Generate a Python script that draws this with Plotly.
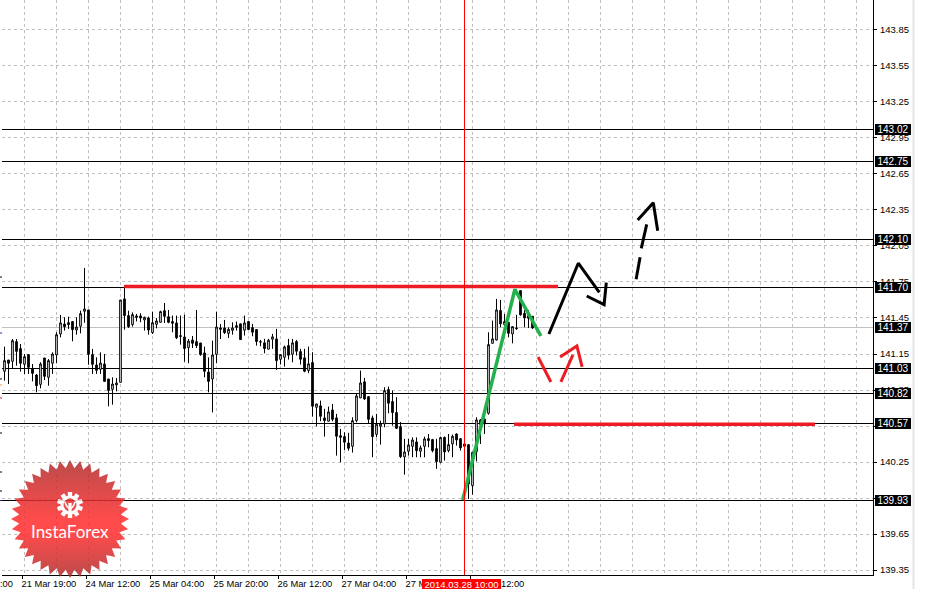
import base64, math
import plotly.graph_objects as go

opens = [141.006,141.100,141.089,141.253,141.195,141.064,141.145,141.025,140.975,140.897,141.117,140.956,141.073,141.142,141.317,141.400,141.411,141.420,141.350,141.381,
         141.506,141.517,141.145,141.059,141.022,141.067,140.942,140.856,140.892,140.914,141.609,141.470,141.395,141.467,141.467,141.434,141.450,141.328,141.397,141.414,
         141.511,141.461,141.420,141.409,141.303,141.292,141.203,141.267,141.253,141.242,141.159,141.000,140.942,141.147,141.367,141.367,141.322,141.347,141.386,141.401,
         141.348,141.420,141.370,141.354,141.252,141.243,141.190,141.273,141.276,141.106,141.123,141.220,141.148,141.254,141.170,141.118,141.012,141.079,140.706,140.718,
         140.618,140.590,140.684,140.618,140.470,140.462,140.409,140.381,140.595,140.784,140.918,140.795,140.618,140.481,140.548,140.568,140.854,140.754,140.662,140.545,
         140.293,140.340,140.381,140.418,140.340,140.381,140.445,140.437,140.362,140.248,140.456,140.345,140.401,140.484,140.445,140.401,140.395,140.053,140.337,140.601,
         140.609,140.656,141.239,141.267,141.512,141.395,141.414,141.317,141.367,141.678,141.489,141.470,141.464]
highs = [141.211,141.100,141.275,141.275,141.233,141.150,141.150,141.067,140.984,141.081,141.117,141.108,141.164,141.331,141.475,141.456,141.461,141.420,141.456,141.511,
         141.867,141.517,141.192,141.122,141.164,141.150,140.942,140.956,140.950,141.600,141.720,141.511,141.497,141.484,141.489,141.461,141.461,141.503,141.450,141.511,
         141.575,141.517,141.470,141.470,141.470,141.478,141.275,141.300,141.517,141.242,141.211,141.122,141.261,141.503,141.400,141.434,141.372,141.414,141.420,141.401,
         141.470,141.420,141.401,141.354,141.267,141.276,141.276,141.318,141.359,141.145,141.220,141.276,141.276,141.267,141.193,141.193,141.212,141.165,140.734,140.762,
         140.693,140.712,140.734,140.651,140.526,140.498,140.493,140.623,140.818,141.012,140.951,140.795,140.637,140.651,140.595,140.873,140.879,140.845,140.790,140.584,
         140.443,140.443,140.456,140.456,140.387,140.462,140.484,140.443,140.443,140.462,140.462,140.484,140.479,140.490,140.445,140.415,140.395,140.331,140.623,140.609,
         140.609,141.331,141.428,141.609,141.601,141.484,141.414,141.378,141.476,141.678,141.517,141.517,141.464]
lows = [140.928,140.900,141.025,141.053,141.003,140.984,140.984,140.922,140.831,140.864,140.933,140.886,140.984,141.073,141.289,141.345,141.359,141.256,141.311,141.322,
        141.411,141.061,140.984,140.984,140.984,140.922,140.714,140.728,140.839,140.914,141.353,141.367,141.378,141.422,141.414,141.345,141.311,141.317,141.364,141.414,
        141.409,141.406,141.331,141.275,141.228,141.086,141.073,141.200,141.200,141.136,140.956,140.831,140.664,141.073,141.275,141.317,141.283,141.311,141.345,141.270,
        141.304,141.354,141.298,141.220,141.215,141.156,141.190,141.193,141.018,141.062,141.045,141.104,141.081,141.137,141.062,140.998,140.990,140.629,140.548,140.590,
        140.462,140.590,140.590,140.304,140.248,140.351,140.345,140.329,140.581,140.784,140.768,140.573,140.290,140.456,140.395,140.540,140.656,140.554,140.526,140.284,
        140.145,140.304,140.290,140.290,140.290,140.290,140.373,140.331,140.193,140.240,140.262,140.331,140.290,140.387,140.345,140.367,139.942,139.978,140.256,140.401,
        140.484,140.645,141.239,141.262,141.373,141.367,141.289,141.239,141.351,141.470,141.373,141.367,141.359]
closes = [141.095,141.073,141.261,141.172,141.073,141.128,141.039,140.989,140.886,141.067,140.964,141.095,141.150,141.311,141.409,141.378,141.395,141.353,141.375,141.486,
          141.525,141.147,141.064,141.014,141.075,140.922,140.847,140.900,140.909,141.600,141.470,141.378,141.478,141.456,141.450,141.456,141.350,141.411,141.425,141.503,
          141.464,141.414,141.406,141.286,141.297,141.195,141.258,141.239,141.220,141.145,141.006,140.922,141.142,141.375,141.356,141.328,141.356,141.367,141.372,141.270,
          141.409,141.354,141.331,141.254,141.250,141.195,141.265,141.293,141.095,141.145,141.209,141.140,141.243,141.173,141.106,141.006,141.068,140.715,140.734,140.631,
          140.595,140.668,140.606,140.465,140.456,140.415,140.365,140.595,140.801,140.909,140.776,140.606,140.462,140.565,140.568,140.845,140.740,140.662,140.531,140.295,
          140.334,140.393,140.434,140.345,140.368,140.443,140.429,140.345,140.254,140.454,140.334,140.395,140.465,140.434,140.368,140.381,140.067,140.331,140.601,140.562,
          140.567,141.228,141.276,141.517,141.401,141.420,141.323,141.378,141.362,141.476,141.451,141.448,141.367]
bar_index = list(range(len(opens)))

price_ticks = [143.85,143.55,143.25,142.95,142.65,142.35,142.05,141.75,141.45,141.15,140.85,140.55,140.25,139.95,139.65,139.35]
black_levels = [143.02,142.75,142.10,141.70,141.03,140.82,140.57,139.93]
gray_level = 141.37
tag_levels = [143.02,142.75,142.10,141.70,141.37,141.03,140.82,140.57,139.93]

time_ticks = [4.5,20.5,36.5,52.5,68.5,84.5,100.5,116.5]
time_labels = ["21 Mar 19:00","24 Mar 12:00","25 Mar 04:00","25 Mar 20:00","26 Mar 12:00","27 Mar 04:00","27 Mar 20:00","28 Mar 12:00"]
grid_x = list(range(5, 218, 8))
cursor_bar = 115

# hand drawn marks on the chart, bar index / price
green_x = [114.55,127.6,134.1]
green_y = [139.934,141.689,141.300]
black_paths = [
    ([136.1,143.45,148.7],[141.317,141.906,141.664]),
    ([145.55,149.9,150.45],[141.633,141.561,141.744]),
    ([157.9,158.9],[141.772,141.956]),
    ([159.2,160.55],[142.030,142.230]),
    ([158.3,162.2,163.3],[142.266,142.410,142.177]),
]
red_arrow_paths = [
    ([133.4,136.6],[141.125,140.917]),
    ([139.1,142.1],[140.917,141.142]),
    ([138.9,143.1,144.4],[141.125,141.217,141.042]),
]
red_bars = [
    ([29.9,138.4],[141.712,141.712]),
    ([127.4,202.6],[140.565,140.565]),
]
left_marks = [(141.791,"#000000"),(141.325,"#2030c0"),(140.942,"#000000"),(140.892,"#f0a020"),(140.784,"#e02020"),
              (140.492,"#000000"),(140.167,"#000000"),(140.009,"#000000"),(139.93,"#2030c0")]

W, H = 925, 589
L, R, T, B = 2, 52, 0, 14
plot_w, plot_h = W - L - R, H - T - B
FONT = "Liberation Sans"
GRID = "#c0c0c0"
Y_RANGE = [139.3093, 144.0986]


def px_x(p):
    return (p - L) / plot_w


def px_y(p):
    return 1 - (p - T) / plot_h


def logo_svg():
    # starburst badge behind the InstaForex text
    cx, cy = 60, 60
    pts = []
    for k in range(72):
        r = 59 if k % 2 == 0 else 51
        a = math.pi * k / 36
        pts.append(f"{cx + r * math.sin(a):.1f},{cy - r * math.cos(a):.1f}")
    gear = []
    gx, gy = 60, 46
    for k in range(10):
        a = 2 * math.pi * k / 10
        gear.append(f'<rect x="{gx - 2.2}" y="{gy - 13}" width="4.4" height="6" fill="#fff" transform="rotate({math.degrees(a):.0f} {gx} {gy})"/>')
    svg = (
        '<svg xmlns="http://www.w3.org/2000/svg" width="120" height="120" viewBox="0 0 120 120">'
        '<defs><linearGradient id="g" x1="0" y1="0" x2="0" y2="1">'
        '<stop offset="0" stop-color="#b02c2c"/><stop offset="0.5" stop-color="#ff2c2c"/><stop offset="0.62" stop-color="#ff2c2c"/><stop offset="1" stop-color="#b02c2c"/>'
        '</linearGradient></defs>'
        f'<polygon points="{" ".join(pts)}" fill="url(#g)"/>'
        + "".join(gear) +
        f'<circle cx="{gx}" cy="{gy}" r="9.5" fill="#fff"/>'
        f'<circle cx="{gx}" cy="{gy}" r="6.5" fill="#e83030"/>'
        f'<rect x="{gx - 1.6}" y="{gy - 2}" width="3.2" height="15" fill="#fff"/>'
        f'<path d="M{gx - 5} {gy - 3} Q{gx - 3} {gy + 3} {gx} {gy + 4} Q{gx + 3} {gy + 3} {gx + 5} {gy - 3}" stroke="#fff" stroke-width="1.6" fill="none"/>'
        f'<circle cx="{gx}" cy="{gy - 5}" r="1.8" fill="#e83030"/>'
        '</svg>'
    )
    return "data:image/svg+xml;base64," + base64.b64encode(svg.encode()).decode()


fig = go.Figure()
# empty traces keep the level axes alive, their gridlines are the horizontal levels
fig.add_trace(go.Scatter(x=[None], y=[None], yaxis="y2", showlegend=False, hoverinfo="skip"))
fig.add_trace(go.Scatter(x=[None], y=[None], yaxis="y3", showlegend=False, hoverinfo="skip"))
fig.add_trace(go.Candlestick(
    x=bar_index, open=opens, high=highs, low=lows, close=closes, whiskerwidth=0,
    increasing=dict(line=dict(color="#000000", width=1), fillcolor="#ffffff"),
    decreasing=dict(line=dict(color="#000000", width=1), fillcolor="#000000"),
    showlegend=False, hoverinfo="skip"))

for xs, ys in red_bars:
    fig.add_trace(go.Scatter(x=xs, y=ys, mode="lines", line=dict(color="#ed1c24", width=3.6), showlegend=False, hoverinfo="skip"))
for xs, ys in red_arrow_paths:
    fig.add_trace(go.Scatter(x=xs, y=ys, mode="lines", line=dict(color="#ed1c24", width=3), showlegend=False, hoverinfo="skip"))
fig.add_trace(go.Scatter(x=green_x, y=green_y, mode="lines", line=dict(color="#22b14c", width=3.5), showlegend=False, hoverinfo="skip"))
for xs, ys in black_paths:
    fig.add_trace(go.Scatter(x=xs, y=ys, mode="lines", line=dict(color="#000000", width=3), showlegend=False, hoverinfo="skip"))

fig.add_shape(type="line", xref="x", x0=cursor_bar, x1=cursor_bar, yref="paper", y0=0, y1=1, line=dict(color="#ff0000", width=1))
fig.add_shape(type="line", xref="paper", x0=px_x(913.5), x1=px_x(913.5), yref="paper", y0=px_y(H), y1=1, line=dict(color="#e4e4e4", width=2))
for lvl, col in left_marks:
    fig.add_shape(type="line", xref="paper", x0=px_x(0), x1=px_x(2), yref="y", y0=lvl, y1=lvl, line=dict(color=col, width=1))

for lvl in tag_levels:
    fig.add_annotation(text=f"{lvl:.2f}", xref="paper", x=px_x(875), xanchor="left", yref="y", y=lvl, yanchor="middle",
                       showarrow=False, bgcolor="#000000", width=36, height=11, borderpad=0, borderwidth=0,
                       font=dict(family=FONT, size=10, color="#ffffff"))
fig.add_annotation(text="2014.03.28 10:00", xref="paper", x=px_x(422), xanchor="left", yref="paper", y=px_y(579), yanchor="top",
                   showarrow=False, bgcolor="#ff0000", width=79, height=10, borderpad=0, borderwidth=0,
                   font=dict(family=FONT, size=9.5, color="#ffffff"))
fig.add_annotation(text=":00", xref="paper", x=px_x(-1), xanchor="left", yref="paper", y=px_y(584), yanchor="middle",
                   showarrow=False, borderpad=0, font=dict(family=FONT, size=9.3, color="#000000"))
fig.add_annotation(text="InstaForex", xref="paper", x=px_x(69.5), xanchor="center", yref="paper", y=px_y(531.5), yanchor="middle",
                   showarrow=False, borderpad=0, font=dict(family="Lato", size=17, color="#ffffff"))

fig.add_layout_image(source=logo_svg(), xref="paper", yref="paper", x=px_x(10), y=px_y(459), sizex=120 / plot_w, sizey=120 / plot_h,
                     xanchor="left", yanchor="top", sizing="stretch", opacity=0.85, layer="above")

level_axis = dict(overlaying="y", side="right", range=Y_RANGE, tickmode="array", showticklabels=False, ticks="",
                  showline=False, zeroline=False, showgrid=True, gridwidth=1, automargin=False)

fig.update_layout(
    width=W, height=H, margin=dict(l=L, r=R, t=T, b=B, pad=0, autoexpand=False), paper_bgcolor="#ffffff", plot_bgcolor="#ffffff",
    boxgap=0.4, showlegend=False,
    xaxis=dict(range=[-0.625, 217.125], rangeslider=dict(visible=False), tickmode="array", tickvals=time_ticks, ticktext=time_labels,
               ticks="outside", ticklen=3, tickcolor="#000000", ticklabelposition="outside right", ticklabelshift=-2, tickangle=0, automargin=False,
               showgrid=False, zeroline=False, showline=True, linecolor="#000000", linewidth=1, tickfont=dict(family=FONT, size=9.3, color="#000000"),
               minor=dict(tickmode="array", tickvals=grid_x, showgrid=True, gridcolor=GRID, griddash="3px,3px", gridwidth=1, ticks="")),
    yaxis=dict(range=Y_RANGE, side="right", tickmode="array", tickvals=price_ticks, ticktext=[f"{p:.2f}" for p in price_ticks],
               ticks="outside", ticklen=3, tickcolor="#000000", ticklabelstandoff=1, automargin=False, showgrid=True, gridcolor=GRID, griddash="3px,3px", gridwidth=1, zeroline=False,
               showline=True, linecolor="#000000", linewidth=1, tickfont=dict(family=FONT, size=9.5, color="#000000")),
    yaxis2=dict(level_axis, tickvals=black_levels, gridcolor="#000000"),
    yaxis3=dict(level_axis, tickvals=[gray_level], gridcolor="#c0c0c0"),
)

fig.write_html("out.html", config=dict(displayModeBar=False), post_script="document.body.style.margin='0';document.body.style.overflow='hidden';")
